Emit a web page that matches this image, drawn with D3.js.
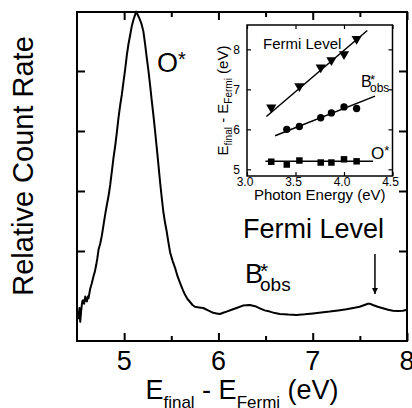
<!DOCTYPE html>
<html>
<head>
<meta charset="utf-8">
<script src="https://cdn.jsdelivr.net/npm/d3@7"></script>
<style>
  html, body { margin: 0; padding: 0; background: #fff; }
  svg { display: block; font-family: "Liberation Sans", Arial, sans-serif; }
</style>
</head>
<body>
<div id="chart-container"></div>
<script>
// Main spectrum: kinetic energy above Fermi level (eV) vs relative count rate
const energies = [
  4.510, 4.518, 4.526, 4.534, 4.545, 4.555, 4.563, 4.575, 4.587, 4.597,
  4.605, 4.614, 4.622, 4.632, 4.640, 4.655, 4.675, 4.690, 4.704, 4.716,
  4.728, 4.746, 4.764, 4.781, 4.800, 4.817, 4.835, 4.852, 4.870, 4.887,
  4.905, 4.923, 4.940, 4.958, 4.975, 4.993, 5.010, 5.029, 5.046, 5.064,
  5.080, 5.098, 5.115, 5.127, 5.140, 5.155, 5.168, 5.185, 5.204, 5.222,
  5.240, 5.258, 5.275, 5.292, 5.310, 5.328, 5.346, 5.364, 5.381, 5.398,
  5.416, 5.434, 5.452, 5.470, 5.487, 5.513, 5.540, 5.566, 5.593, 5.620,
  5.646, 5.672, 5.699, 5.725, 5.751, 5.795, 5.839, 5.890, 5.945, 5.980,
  6.016, 6.050, 6.087, 6.140, 6.193, 6.260, 6.333, 6.390, 6.439, 6.490,
  6.545, 6.600, 6.651, 6.740, 6.828, 6.915, 7.003, 7.090, 7.180, 7.270,
  7.357, 7.430, 7.497, 7.550, 7.585, 7.610, 7.638, 7.690, 7.744, 7.800,
  7.850, 7.900, 7.956, 8.000
];
const counts = [
  0.00, -0.12, 0.05, -0.18, 0.02, 0.15, 0.18, 0.12, 0.24, 0.17,
  0.16, 0.24, 0.21, 0.30, 0.37, 0.45, 0.58, 0.66, 0.77, 0.88,
  1.02, 1.12, 1.26, 1.43, 1.62, 1.77, 1.92, 2.10, 2.33, 2.55,
  2.75, 2.98, 3.22, 3.43, 3.60, 3.82, 4.02, 4.27, 4.45, 4.60,
  4.74, 4.85, 4.93, 4.99, 4.95, 4.90, 4.85, 4.78, 4.66, 4.45,
  4.22, 4.00, 3.77, 3.52, 3.27, 3.00, 2.72, 2.43, 2.15, 1.90,
  1.65, 1.47, 1.32, 1.14, 0.98, 0.84, 0.72, 0.58, 0.47, 0.36,
  0.27, 0.20, 0.15, 0.10, 0.07, 0.06, 0.05, 0.01, -0.03, -0.04,
  -0.05, -0.03, -0.01, 0.02, 0.05, 0.09, 0.10, 0.08, 0.045, 0.01,
  -0.01, -0.035, -0.05, -0.06, -0.065, -0.055, -0.04, -0.025, -0.01, 0.01,
  0.03, 0.05, 0.07, 0.10, 0.12, 0.12, 0.10, 0.07, 0.045, 0.02,
  0.005, 0.00, 0.005, 0.02
];
const mainXTicks = [5, 6, 7, 8];
const mainXMinor = [5.5, 6.5, 7.5];
const mainYTicks = [1, 2, 3, 4];

// Inset: peak position vs photon energy
const photonFermi = [3.25, 3.54, 3.76, 3.87, 4.00, 4.13];
const fermiLevel  = [6.55, 7.08, 7.55, 7.73, 7.88, 8.26];
const photonB     = [3.41, 3.54, 3.76, 3.87, 4.00, 4.13];
const bObs        = [6.00, 6.07, 6.29, 6.41, 6.56, 6.52];
const photonO     = [3.25, 3.41, 3.54, 3.76, 3.87, 4.00, 4.13];
const oStar       = [5.19, 5.12, 5.22, 5.17, 5.17, 5.25, 5.20];
// fitted lines, end points
const fitFermi = [[3.20, 6.32], [4.24, 8.47]];
const fitB     = [[3.29, 5.84], [4.32, 6.83]];
const fitO     = [[3.19, 5.20], [4.30, 5.20]];
const insetXTicks = [3.0, 3.5, 4.0, 4.5];
const insetYTicks = [5, 6, 7, 8];

const width = 412;
const height = 408;

// main plot frame
const marginLeft = 77;
const marginRight = 5;
const marginTop = 12;
const marginBottom = 67;

const x = d3.scaleLinear()
    .domain([4.5, 8])
    .range([marginLeft, width - marginRight]);

const y = d3.scaleLinear()
    .domain([-0.5, 4.983])
    .range([height - marginBottom, marginTop]);

const svg = d3.create("svg")
    .attr("width", width)
    .attr("height", height);

// spectrum
const spectrum = energies.map((e, i) => [e, counts[i]]);
svg.append("path")
    .datum(spectrum)
    .attr("fill", "none")
    .attr("stroke", "#000")
    .attr("stroke-width", 2)
    .attr("stroke-linejoin", "round")
    .attr("d", d3.line().x(d => x(d[0])).y(d => y(d[1])));

// inward ticks on all four sides
const tickLen = 8, minorLen = 5;
const axes = svg.append("g").attr("fill", "none").attr("stroke", "#000").attr("stroke-width", 2);
axes.append("g")
    .attr("transform", `translate(0,${height - marginBottom})`)
    .call(d3.axisBottom(x).tickValues(mainXTicks).tickSize(-tickLen).tickFormat(""));
axes.append("g")
    .attr("transform", `translate(0,${height - marginBottom})`)
    .call(d3.axisBottom(x).tickValues(mainXMinor).tickSize(-minorLen).tickFormat(""));
axes.append("g")
    .attr("transform", `translate(0,${marginTop})`)
    .call(d3.axisTop(x).tickValues(mainXTicks).tickSize(-tickLen).tickFormat(""));
axes.append("g")
    .attr("transform", `translate(0,${marginTop})`)
    .call(d3.axisTop(x).tickValues(mainXMinor).tickSize(-minorLen).tickFormat(""));
axes.append("g")
    .attr("transform", `translate(${marginLeft},0)`)
    .call(d3.axisLeft(y).tickValues(mainYTicks).tickSize(-tickLen).tickFormat(""));
axes.append("g")
    .attr("transform", `translate(${width - marginRight},0)`)
    .call(d3.axisRight(y).tickValues(mainYTicks).tickSize(-tickLen).tickFormat(""));
axes.selectAll(".domain").remove();
axes.selectAll("line").attr("stroke", "#000").attr("stroke-width", 2);

svg.append("rect")
    .attr("x", marginLeft)
    .attr("y", marginTop)
    .attr("width", width - marginRight - marginLeft)
    .attr("height", height - marginBottom - marginTop)
    .attr("fill", "none")
    .attr("stroke", "#000")
    .attr("stroke-width", 2);

// tick labels
svg.append("g")
    .selectAll("text")
    .data(mainXTicks)
    .join("text")
    .attr("x", d => x(d))
    .attr("y", 370)
    .attr("text-anchor", "middle")
    .attr("font-size", 27)
    .text(d => d);

// axis titles
const xTitle = svg.append("text")
    .attr("x", (marginLeft + width - marginRight) / 2)
    .attr("y", 399)
    .attr("text-anchor", "middle")
    .attr("font-size", 27);
xTitle.append("tspan").text("E");
xTitle.append("tspan").attr("font-size", 17).attr("dy", 9).text("final");
xTitle.append("tspan").attr("dy", -9).text(" - E");
xTitle.append("tspan").attr("font-size", 17).attr("dy", 9).text("Fermi");
xTitle.append("tspan").attr("dy", -9).text(" (eV)");

svg.append("text")
    .attr("transform", "translate(33,166) rotate(-90)")
    .attr("text-anchor", "middle")
    .attr("font-size", 29)
    .text("Relative Count Rate");

// labels on the spectrum
const oLab = svg.append("text").attr("x", 157).attr("y", 72).attr("font-size", 27);
oLab.append("tspan").text("O");
oLab.append("tspan").attr("font-size", 20).attr("dy", -6).text("*");

svg.append("text")
    .attr("x", 243)
    .attr("y", 238)
    .attr("font-size", 27)
    .text("Fermi Level");

const bLab = svg.append("text").attr("x", 245).attr("y", 283).attr("font-size", 27);
bLab.append("tspan").text("B");
bLab.append("tspan").attr("x", 260).attr("y", 278).attr("font-size", 21).text("*");
bLab.append("tspan").attr("x", 260).attr("y", 291).attr("font-size", 19).text("obs");

// arrow to the Fermi level feature
svg.append("defs").append("marker")
    .attr("id", "arrowhead")
    .attr("viewBox", "0 0 10 10")
    .attr("refX", 10)
    .attr("refY", 5)
    .attr("markerWidth", 9)
    .attr("markerHeight", 6)
    .attr("markerUnits", "userSpaceOnUse")
    .attr("orient", "auto")
  .append("path")
    .attr("d", "M0,0L10,5L0,10Z")
    .attr("fill", "#000");
svg.append("line")
    .attr("x1", x(7.66)).attr("x2", x(7.66))
    .attr("y1", 254).attr("y2", 294)
    .attr("stroke", "#000")
    .attr("stroke-width", 1.5)
    .attr("marker-end", "url(#arrowhead)");

// ---- inset ----
const ix = d3.scaleLinear()
    .domain([3.0, 4.5])
    .range([247, 392.5]);
const iy = d3.scaleLinear()
    .domain([4.833, 8.608])
    .range([176, 25]);

const inset = svg.append("g");
inset.append("rect")
    .attr("x", ix(3.0)).attr("y", iy(8.608))
    .attr("width", ix(4.5) - ix(3.0))
    .attr("height", iy(4.833) - iy(8.608))
    .attr("fill", "#fff");

const iTick = 4;
const iAxes = inset.append("g");
iAxes.append("g").attr("transform", `translate(0,${iy.range()[0]})`)
    .call(d3.axisBottom(ix).tickValues(insetXTicks).tickSize(-iTick).tickFormat(""));
iAxes.append("g").attr("transform", `translate(0,${iy.range()[1]})`)
    .call(d3.axisTop(ix).tickValues(insetXTicks).tickSize(-iTick).tickFormat(""));
iAxes.append("g").attr("transform", `translate(${ix.range()[0]},0)`)
    .call(d3.axisLeft(iy).tickValues(insetYTicks).tickSize(-iTick).tickFormat(""));
iAxes.append("g").attr("transform", `translate(${ix.range()[1]},0)`)
    .call(d3.axisRight(iy).tickValues(insetYTicks).tickSize(-iTick).tickFormat(""));
iAxes.selectAll(".domain").remove();
iAxes.selectAll("line").attr("stroke", "#000").attr("stroke-width", 1.2);

inset.append("rect")
    .attr("x", ix(3.0)).attr("y", iy(8.608))
    .attr("width", ix(4.5) - ix(3.0))
    .attr("height", iy(4.833) - iy(8.608))
    .attr("fill", "none")
    .attr("stroke", "#000")
    .attr("stroke-width", 1.5);

inset.append("g")
    .selectAll("text")
    .data(insetXTicks)
    .join("text")
    .attr("x", d => ix(d) - 2)
    .attr("y", 186)
    .attr("text-anchor", "middle")
    .attr("font-size", 12)
    .text(d => d.toFixed(1));
inset.append("g")
    .selectAll("text")
    .data(insetYTicks)
    .join("text")
    .attr("x", 240)
    .attr("y", d => iy(d) + 4.5)
    .attr("text-anchor", "end")
    .attr("font-size", 12)
    .text(d => d);

inset.append("text")
    .attr("x", (ix(3.0) + ix(4.5)) / 2)
    .attr("y", 200)
    .attr("text-anchor", "middle")
    .attr("font-size", 15)
    .text("Photon Energy (eV)");

const iyTitle = inset.append("text")
    .attr("transform", `translate(228,${(iy(4.833) + iy(8.608)) / 2}) rotate(-90)`)
    .attr("text-anchor", "middle")
    .attr("font-size", 15);
iyTitle.append("tspan").text("E");
iyTitle.append("tspan").attr("font-size", 10).attr("dy", 4).text("final");
iyTitle.append("tspan").attr("dy", -4).text(" - E");
iyTitle.append("tspan").attr("font-size", 10).attr("dy", 4).text("Fermi");
iyTitle.append("tspan").attr("dy", -4).text(" (eV)");

// fit lines
const fitLine = d3.line().x(d => ix(d[0])).y(d => iy(d[1]));
inset.selectAll("path.fit")
    .data([fitFermi, fitB, fitO])
    .join("path")
    .attr("class", "fit")
    .attr("fill", "none")
    .attr("stroke", "#000")
    .attr("stroke-width", 1.5)
    .attr("d", fitLine);

// markers
inset.append("g")
    .selectAll("path")
    .data(photonFermi.map((p, i) => [p, fermiLevel[i]]))
    .join("path")
    .attr("transform", d => `translate(${ix(d[0])},${iy(d[1])}) rotate(180)`)
    .attr("d", d3.symbol(d3.symbolTriangle, 45));
inset.append("g")
    .selectAll("path")
    .data(photonB.map((p, i) => [p, bObs[i]]))
    .join("path")
    .attr("transform", d => `translate(${ix(d[0])},${iy(d[1])})`)
    .attr("d", d3.symbol(d3.symbolCircle, 42));
inset.append("g")
    .selectAll("path")
    .data(photonO.map((p, i) => [p, oStar[i]]))
    .join("path")
    .attr("transform", d => `translate(${ix(d[0])},${iy(d[1])})`)
    .attr("d", d3.symbol(d3.symbolSquare, 42));

// inset labels
inset.append("text")
    .attr("x", 263)
    .attr("y", 49)
    .attr("font-size", 15)
    .text("Fermi Level");
const ibLab = inset.append("text").attr("x", 361).attr("y", 87).attr("font-size", 16);
ibLab.append("tspan").text("B");
ibLab.append("tspan").attr("x", 370).attr("y", 84).attr("font-size", 13).text("*");
ibLab.append("tspan").attr("x", 370).attr("y", 92).attr("font-size", 12).text("obs");
const ioLab = inset.append("text").attr("x", 371).attr("y", 159).attr("font-size", 17);
ioLab.append("tspan").text("O");
ioLab.append("tspan").attr("font-size", 13).attr("dy", -4).text("*");

d3.select("#chart-container").append(() => svg.node());
</script>
</body>
</html>
